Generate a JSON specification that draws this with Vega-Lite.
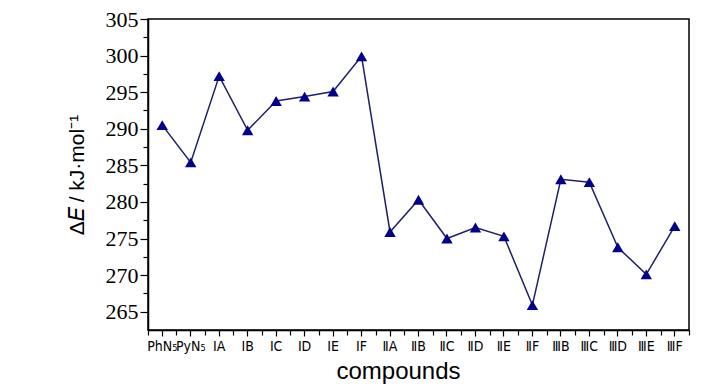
{
  "$schema": "https://vega.github.io/schema/vega-lite/v6.json",
  "autosize": "none",
  "width": 541,
  "height": 311,
  "padding": {"left": 148, "top": 19, "right": 39, "bottom": 60},
  "background": "white",
  "config": {
    "view": {"stroke": "black", "strokeWidth": 1.5},
    "axis": {"grid": false, "domainColor": "black", "tickColor": "black", "domainWidth": 1.5, "tickWidth": 1.2, "labelColor": "black", "titleColor": "black"}
  },
  "data": {"values": [
    {"compound": "PhN₅", "dE": 290.5},
    {"compound": "PyN₅", "dE": 285.4},
    {"compound": "ⅠA", "dE": 297.2},
    {"compound": "ⅠB", "dE": 289.8},
    {"compound": "ⅠC", "dE": 293.8},
    {"compound": "ⅠD", "dE": 294.4},
    {"compound": "ⅠE", "dE": 295.1},
    {"compound": "ⅠF", "dE": 299.9},
    {"compound": "ⅡA", "dE": 275.9},
    {"compound": "ⅡB", "dE": 280.3},
    {"compound": "ⅡC", "dE": 275.0},
    {"compound": "ⅡD", "dE": 276.5},
    {"compound": "ⅡE", "dE": 275.3},
    {"compound": "ⅡF", "dE": 265.9},
    {"compound": "ⅢB", "dE": 283.1},
    {"compound": "ⅢC", "dE": 282.7},
    {"compound": "ⅢD", "dE": 273.8},
    {"compound": "ⅢE", "dE": 270.1},
    {"compound": "ⅢF", "dE": 276.7}
  ]},
  "layer": [
    {
      "mark": {"type": "line", "color": "#1f1f6b", "strokeWidth": 1.5},
      "encoding": {
        "x": {"field": "compound", "type": "nominal", "sort": null,
              "scale": {"type": "band", "paddingInner": 0, "paddingOuter": 0},
              "axis": {"orient": "bottom", "tickBand": "center", "tickSize": 6, "labelAngle": 0,
                       "labelFont": "Liberation Sans Narrow, DejaVu Sans Condensed, sans-serif", "labelFontSize": 14, "labelPadding": 3,
                       "labelOverlap": false,
                       "title": "compounds", "titleFont": "Liberation Sans", "titleFontSize": 24,
                       "titleFontWeight": "normal", "titlePadding": 6, "titleX": 250, "titleAlign": "center"}},
        "y": {"field": "dE", "type": "quantitative",
              "scale": {"domain": [262.5, 305], "nice": false, "zero": false},
              "axis": {"orient": "left", "values": [265, 270, 275, 280, 285, 290, 295, 300, 305],
                       "tickSize": 8, "labelFont": "Liberation Sans Narrow", "labelFontSize": 22,
                       "labelPadding": 2, "title": "Δ𝐸 / kJ·mol⁻¹", "titleFont": "Liberation Sans",
                       "titleFontSize": 21, "titleFontWeight": "normal", "titlePadding": 18}}
      }
    },
    {
      "mark": {"type": "point", "shape": "triangle-up", "filled": true, "color": "#00008b", "size": 130, "opacity": 1},
      "encoding": {
        "x": {"field": "compound", "type": "nominal", "sort": null,
              "axis": {"orient": "bottom", "tickBand": "extent", "tickSize": 5, "labels": false, "title": null, "domain": false}},
        "y": {"field": "dE", "type": "quantitative",
              "axis": {"orient": "left", "values": [267.5, 272.5, 277.5, 282.5, 287.5, 292.5, 297.5, 302.5],
                       "tickSize": 5, "labels": false, "title": null, "domain": false}}
      }
    }
  ],
  "resolve": {"axis": {"x": "independent", "y": "independent"}}
}
